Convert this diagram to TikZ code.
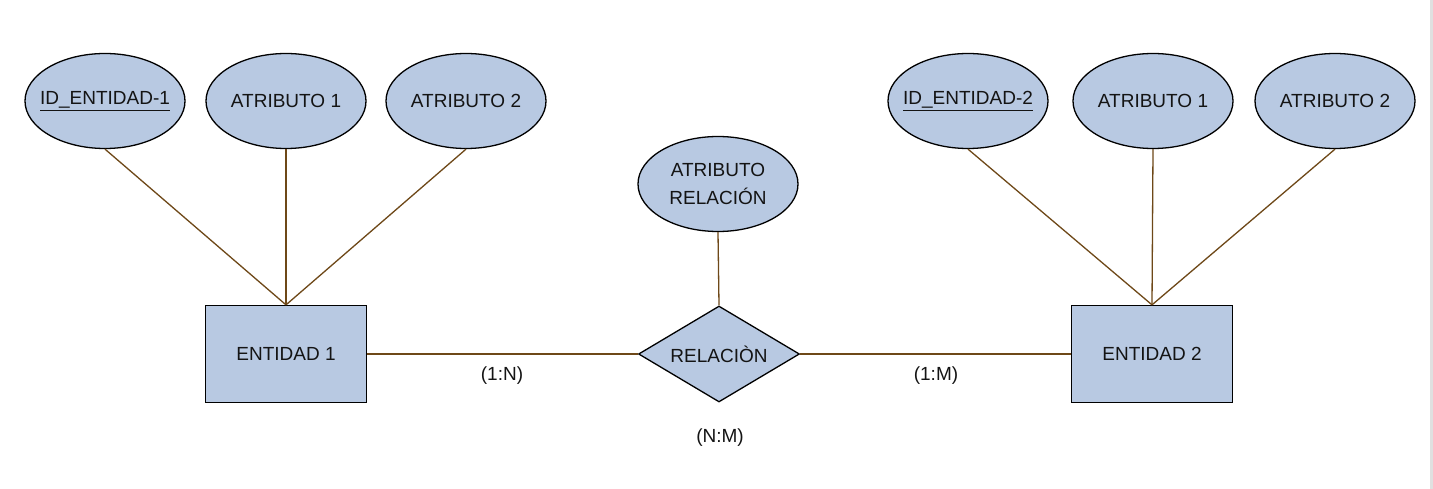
\documentclass[tikz,border=0pt]{standalone}
\usepackage{fontspec}
\setmainfont{Liberation Sans}
\usetikzlibrary{shapes.geometric}
\definecolor{fillc}{RGB}{184,201,226}
\definecolor{linkc}{RGB}{110,72,24}
\definecolor{txt}{RGB}{20,20,20}
\newcommand{\zb}[1]{\makebox[0pt][c]{#1}}
\begin{document}
\begin{tikzpicture}[x=1pt,y=-1pt,
  attr/.style={ellipse,draw=black,fill=fillc,line width=1.3pt,minimum width=160pt,minimum height=95pt,inner sep=0pt,text=txt,font=\fontsize{19}{28}\selectfont,align=center},
  ent/.style={rectangle,draw=black,fill=fillc,line width=1.3pt,minimum width=161pt,minimum height=97pt,inner sep=0pt,text=txt,font=\fontsize{19}{23}\selectfont},
  rel/.style={diamond,draw=black,fill=fillc,line width=1.3pt,minimum width=161pt,minimum height=96pt,inner sep=0pt,text=txt,font=\fontsize{19}{23}\selectfont},
  lbl/.style={text=txt,font=\fontsize{19}{23}\selectfont,inner sep=0pt},
  link/.style={draw=linkc,line width=1.3pt}]
\useasboundingbox (0,0) rectangle (1433,489);
\fill[white] (0,0) rectangle (1433,489);
\fill[black!12] (1430,0) rectangle (1433,489);
% entities
\node[ent] (e1) at (286,354) {ENTIDAD 1};
\node[ent] (e2) at (1152,354) {ENTIDAD 2};
\node[rel] (r) at (719,354) {\zb{RELACIÒN}};
% attributes
\node[attr] (a11) at (105,101) {\zb{\underline{ID\_ENTIDAD-1}}};
\node[attr] (a12) at (286,101) {\zb{ATRIBUTO 1}};
\node[attr] (a13) at (466,101) {\zb{ATRIBUTO 2}};
\node[attr] (a21) at (968,101) {\zb{\underline{ID\_ENTIDAD-2}}};
\node[attr] (a22) at (1153,101) {\zb{ATRIBUTO 1}};
\node[attr] (a23) at (1335,101) {\zb{ATRIBUTO 2}};
\node[attr] (ar) at (718,184) {\zb{ATRIBUTO}\\\zb{RELACIÓN}};
% connectors
\draw[link] (a11.south) -- (e1.north);
\draw[link] (a12.south) -- (e1.north);
\draw[link] (a13.south) -- (e1.north);
\draw[link] (a21.south) -- (e2.north);
\draw[link] (a22.south) -- (e2.north);
\draw[link] (a23.south) -- (e2.north);
\draw[link] (ar.south) -- (r.north);
\draw[link] (e1.east) -- (r.west);
\draw[link] (r.east) -- (e2.west);
% labels
\node[lbl] (l1) at (502,376) {(1:N)};
\node[lbl] (l2) at (936,376) {(1:M)};
\node[lbl] (l3) at (720,438) {(N:M)};
\end{tikzpicture}
\end{document}
